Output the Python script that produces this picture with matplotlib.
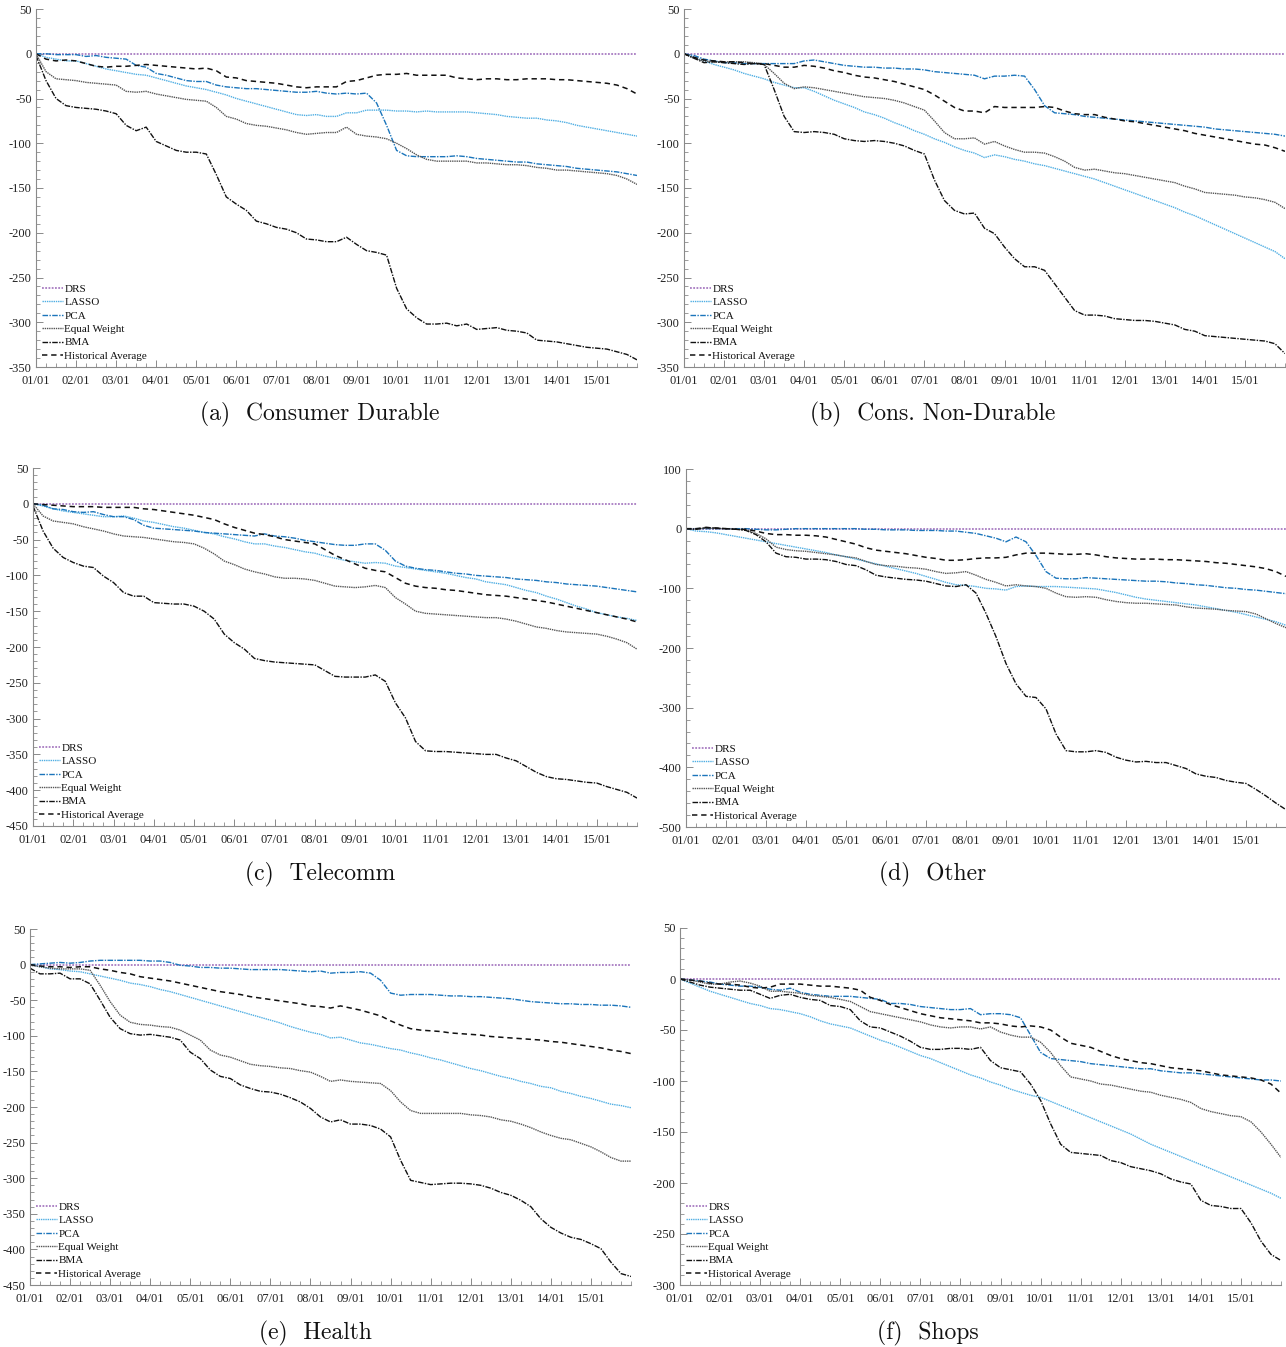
import numpy as np
import matplotlib
matplotlib.use("Agg")
import matplotlib.pyplot as plt
from matplotlib.ticker import MultipleLocator, FixedLocator, FuncFormatter

# ---------------- data ----------------
t = np.arange(1.0, 16.001, 0.25)          # time in years (01/01 = 1)
tick_pos = list(range(1, 16))
tick_labels = ["%02d/01" % i for i in range(1, 16)]
series_names = ["DRS", "LASSO", "PCA", "Equal Weight", "BMA", "Historical Average"]
drs_line = [0.0] * len(t)

# (a) Consumer Durable
a_lasso = [0, -4, -6, -8, -8, -11, -14, -17, -19, -21, -23, -24, -27, -30, -33, -36,
           -38, -40, -43, -46, -50, -53, -56, -59, -62, -65, -68, -69, -68, -70, -70, -66,
           -66, -63, -63, -63, -64, -64, -65, -64, -65, -65, -65, -65, -66, -67, -68, -70,
           -71, -72, -72, -74, -75, -77, -80, -82, -84, -86, -88, -90, -92]
a_pca = [0, 0, -1, -1, -1, -3, -2, -4, -5, -6, -13, -15, -22, -24, -27, -30,
         -31, -31, -35, -37, -38, -39, -39, -40, -41, -42, -43, -43, -42, -44, -45, -44,
         -45, -44, -55, -80, -108, -114, -115, -115, -115, -115, -114, -115, -117, -118, -119, -120,
         -121, -121, -123, -124, -125, -126, -128, -129, -130, -131, -132, -134, -136]
a_ew = [0, -20, -28, -29, -30, -32, -33, -34, -35, -42, -43, -42, -45, -47, -49, -51,
        -52, -53, -60, -70, -73, -78, -80, -81, -83, -85, -88, -90, -89, -88, -88, -82,
        -90, -92, -93, -95, -100, -106, -113, -118, -120, -120, -120, -120, -122, -122, -123, -124,
        -124, -125, -127, -128, -130, -130, -131, -132, -133, -134, -136, -140, -146]
a_bma = [-2, -30, -50, -58, -60, -61, -62, -64, -67, -80, -86, -82, -98, -103, -108, -110,
         -110, -112, -135, -160, -168, -175, -187, -190, -194, -196, -200, -207, -208, -210, -210, -205,
         -213, -220, -222, -225, -262, -285, -295, -302, -302, -301, -304, -302, -308, -307, -306, -309,
         -310, -312, -320, -321, -322, -324, -326, -328, -329, -330, -333, -336, -342]
a_ha = [0, -6, -8, -7, -8, -11, -14, -15, -14, -14, -13, -12, -13, -14, -15, -16,
        -17, -16, -19, -26, -27, -30, -31, -32, -33, -35, -37, -38, -37, -37, -37, -31,
        -30, -27, -24, -23, -23, -22, -24, -24, -24, -24, -27, -28, -29, -28, -28, -29,
        -29, -28, -28, -28, -29, -29, -30, -31, -32, -33, -35, -39, -45]

# (b) Cons. Non-Durable
b_lasso = [0, -4, -8, -12, -15, -18, -22, -25, -28, -32, -35, -38, -38, -42, -47, -52,
           -56, -60, -65, -68, -72, -77, -81, -86, -90, -95, -99, -104, -108, -111, -116, -113,
           -115, -118, -120, -123, -125, -128, -131, -134, -137, -140, -144, -148, -152, -156, -160, -164,
           -168, -172, -177, -181, -186, -191, -196, -201, -206, -211, -216, -221, -229]
b_pca = [0, -2, -6, -8, -10, -10, -11, -11, -11, -11, -11, -11, -8, -7, -9, -11,
         -13, -14, -15, -15, -16, -16, -17, -17, -18, -20, -21, -22, -23, -24, -28, -25,
         -25, -24, -25, -40, -58, -66, -67, -68, -70, -71, -72, -73, -74, -75, -76, -77,
         -78, -79, -80, -81, -82, -84, -85, -86, -87, -88, -89, -90, -92]
b_ew = [0, -5, -8, -9, -9, -9, -9, -10, -12, -22, -33, -39, -37, -38, -40, -42,
        -44, -46, -48, -49, -50, -52, -55, -59, -63, -75, -88, -95, -95, -94, -101, -98,
        -103, -107, -110, -110, -111, -115, -120, -127, -130, -129, -131, -133, -134, -136, -138, -140,
        -142, -144, -148, -151, -155, -156, -157, -158, -160, -161, -163, -166, -173]
b_bma = [0, -5, -10, -9, -10, -11, -12, -11, -12, -40, -70, -87, -88, -87, -88, -90,
         -95, -97, -98, -97, -98, -100, -103, -108, -112, -141, -164, -175, -179, -178, -195, -201,
         -216, -229, -238, -238, -242, -257, -272, -287, -292, -292, -293, -296, -297, -298, -298, -299,
         -301, -303, -308, -310, -315, -316, -317, -318, -319, -320, -321, -324, -335]
b_ha = [0, -4, -7, -8, -9, -9, -10, -11, -11, -13, -15, -15, -13, -14, -16, -19,
        -21, -24, -26, -27, -29, -31, -34, -37, -40, -46, -53, -60, -64, -64, -66, -59,
        -60, -60, -60, -60, -59, -60, -64, -67, -68, -68, -71, -73, -75, -76, -78, -80,
        -82, -84, -86, -89, -91, -93, -95, -97, -99, -101, -102, -105, -109]

# (c) Telecomm
c_lasso = [0, -3, -7, -10, -12, -14, -16, -18, -18, -17, -20, -24, -26, -29, -32, -34,
           -37, -40, -42, -46, -49, -53, -56, -56, -59, -61, -64, -67, -69, -73, -76, -79,
           -81, -83, -82, -83, -87, -89, -91, -93, -95, -97, -100, -103, -105, -109, -111, -113,
           -117, -121, -124, -129, -133, -138, -143, -147, -152, -155, -158, -160, -163]
c_pca = [0, -2, -7, -8, -11, -12, -11, -15, -18, -18, -22, -30, -34, -35, -36, -37,
         -38, -40, -41, -42, -43, -44, -45, -42, -45, -46, -48, -51, -53, -55, -57, -58,
         -58, -56, -56, -65, -80, -87, -90, -92, -93, -95, -97, -98, -100, -101, -102, -103,
         -105, -106, -107, -109, -110, -112, -113, -114, -115, -117, -119, -121, -123]
c_ew = [0, -17, -24, -26, -28, -32, -35, -38, -42, -45, -46, -47, -49, -51, -53, -54,
        -56, -62, -70, -80, -85, -91, -95, -98, -102, -104, -104, -105, -107, -111, -115, -116,
        -117, -116, -114, -117, -131, -140, -150, -153, -154, -155, -156, -157, -158, -159, -159, -161,
        -164, -168, -172, -174, -177, -179, -180, -181, -182, -185, -189, -194, -203]
c_bma = [-3, -38, -62, -75, -82, -87, -89, -101, -110, -124, -129, -129, -138, -139, -140, -140,
         -143, -150, -161, -182, -194, -203, -216, -219, -221, -222, -223, -224, -225, -233, -241, -242,
         -242, -242, -239, -248, -278, -299, -332, -345, -346, -346, -347, -348, -349, -350, -350, -355,
         -359, -367, -375, -381, -384, -385, -387, -389, -390, -395, -399, -403, -411]
c_ha = [0, -1, -2, -3, -4, -4, -4, -5, -5, -5, -5, -7, -8, -10, -12, -14,
        -16, -19, -22, -28, -33, -37, -41, -43, -46, -50, -52, -54, -56, -64, -72, -78,
        -84, -90, -93, -95, -103, -111, -115, -117, -118, -120, -121, -123, -125, -127, -128, -129,
        -131, -133, -135, -137, -140, -143, -146, -149, -152, -155, -158, -161, -165]

# (d) Other
d_lasso = [0, -4, -5, -7, -10, -13, -16, -19, -22, -25, -28, -31, -34, -37, -40, -44,
           -47, -51, -55, -59, -63, -67, -71, -75, -80, -85, -90, -94, -95, -97, -100, -101,
           -103, -97, -96, -97, -97, -97, -98, -99, -100, -101, -104, -107, -111, -115, -118, -120,
           -122, -124, -126, -128, -131, -134, -137, -140, -144, -148, -152, -156, -162]
d_pca = [0, 0, 0, 0, 0, 0, 0, -1, -2, -2, -1, 0, 0, 0, 0, 0,
         0, 0, -1, -1, -2, -2, -2, -3, -3, -3, -4, -4, -6, -8, -12, -16,
         -22, -14, -22, -45, -72, -83, -84, -84, -82, -83, -84, -85, -86, -87, -88, -88,
         -89, -91, -92, -94, -95, -97, -99, -100, -102, -103, -105, -107, -109]
d_ew = [0, -1, 1, 0, 0, -1, -2, -8, -17, -31, -35, -37, -38, -40, -42, -44,
        -47, -49, -55, -60, -62, -63, -65, -66, -68, -72, -75, -74, -72, -78, -85, -90,
        -96, -94, -96, -97, -100, -108, -114, -115, -114, -115, -119, -122, -124, -125, -125, -126,
        -127, -128, -131, -133, -134, -135, -137, -138, -139, -143, -151, -159, -166]
d_bma = [0, -1, 2, 1, 0, -1, -3, -10, -22, -41, -47, -48, -51, -51, -52, -55,
         -60, -62, -69, -78, -81, -83, -85, -86, -88, -92, -96, -97, -94, -108, -142, -181,
         -226, -260, -281, -283, -302, -344, -372, -374, -374, -372, -375, -383, -388, -391, -390, -392,
         -392, -397, -402, -411, -415, -417, -422, -425, -427, -437, -448, -460, -471]
d_ha = [0, 0, 2, 1, 0, -1, -1, -4, -8, -10, -10, -11, -11, -12, -14, -18,
        -22, -26, -32, -36, -38, -40, -42, -45, -48, -50, -53, -53, -52, -50, -49, -49,
        -48, -44, -41, -41, -41, -42, -43, -43, -42, -44, -47, -49, -50, -51, -51, -51,
        -52, -52, -53, -54, -55, -57, -58, -60, -62, -64, -67, -72, -80]

# (e) Health
e_lasso = [0, -3, -6, -7, -9, -10, -13, -16, -19, -22, -26, -28, -31, -35, -38, -42,
           -46, -50, -54, -58, -62, -66, -70, -74, -78, -82, -87, -91, -95, -98, -103, -102,
           -106, -110, -112, -115, -118, -120, -124, -127, -131, -134, -138, -142, -146, -149, -153, -157,
           -160, -164, -167, -171, -173, -178, -181, -185, -188, -192, -196, -198, -201]
e_pca = [0, 1, 2, 3, 2, 3, 5, 6, 6, 6, 6, 6, 5, 5, 3, -1,
         -2, -4, -4, -5, -5, -6, -7, -7, -7, -7, -8, -9, -10, -9, -12, -11,
         -11, -10, -12, -22, -40, -43, -42, -42, -42, -43, -44, -44, -45, -45, -46, -47,
         -48, -50, -52, -53, -54, -55, -55, -56, -56, -57, -57, -58, -60]
e_ew = [-1, -3, -5, -6, -6, -6, -8, -29, -52, -71, -81, -84, -85, -87, -88, -92,
        -99, -106, -120, -127, -130, -135, -140, -142, -143, -145, -146, -149, -151, -157, -164, -162,
        -164, -165, -166, -167, -177, -193, -205, -209, -209, -209, -209, -209, -211, -212, -214, -218,
        -220, -224, -229, -235, -240, -244, -246, -251, -256, -263, -271, -276, -276]
e_bma = [-5, -13, -13, -12, -20, -20, -27, -50, -74, -90, -97, -99, -98, -100, -102, -106,
         -123, -132, -148, -157, -160, -169, -174, -178, -179, -182, -187, -193, -202, -214, -221, -218,
         -224, -224, -226, -231, -242, -275, -303, -306, -309, -308, -307, -307, -308, -310, -314, -320,
         -324, -331, -340, -357, -369, -377, -383, -386, -392, -399, -418, -434, -438]
e_ha = [0, -2, -3, -3, -4, -3, -3, -6, -8, -11, -13, -17, -19, -21, -23, -26,
        -29, -32, -35, -38, -40, -42, -45, -47, -49, -51, -53, -55, -58, -59, -61, -58,
        -61, -64, -68, -72, -79, -85, -90, -92, -93, -94, -96, -97, -98, -99, -101, -102,
        -103, -104, -105, -106, -108, -109, -111, -113, -115, -117, -120, -122, -125]

# (f) Shops
f_lasso = [0, -4, -8, -12, -15, -18, -21, -24, -26, -29, -30, -32, -34, -37, -41, -44,
           -46, -48, -52, -56, -60, -63, -67, -71, -75, -78, -82, -86, -90, -94, -97, -101,
           -104, -108, -111, -114, -116, -120, -124, -128, -132, -136, -140, -144, -148, -152, -157, -162,
           -166, -170, -174, -178, -182, -186, -190, -194, -198, -202, -206, -210, -215]
f_pca = [0, -1, -2, -3, -5, -6, -7, -7, -8, -10, -11, -9, -13, -15, -16, -17,
         -17, -17, -18, -19, -20, -24, -24, -25, -27, -28, -29, -30, -30, -29, -35, -34,
         -34, -35, -38, -55, -72, -78, -79, -80, -81, -83, -84, -85, -86, -87, -88, -88,
         -90, -91, -92, -92, -93, -94, -95, -96, -97, -98, -99, -99, -100]
f_ew = [0, -1, -3, -5, -5, -3, -2, -4, -7, -12, -12, -13, -14, -16, -17, -18,
        -20, -22, -27, -32, -34, -36, -38, -40, -42, -45, -47, -48, -47, -47, -49, -47,
        -52, -55, -57, -57, -62, -72, -85, -96, -98, -100, -103, -104, -106, -108, -110, -111,
        -114, -116, -118, -121, -127, -130, -132, -134, -135, -140, -150, -162, -175]
f_bma = [0, -3, -6, -8, -9, -10, -11, -11, -15, -19, -16, -15, -18, -20, -21, -26,
         -27, -30, -41, -47, -48, -52, -56, -61, -67, -69, -69, -68, -68, -69, -67, -80,
         -87, -89, -91, -103, -119, -142, -162, -170, -171, -172, -173, -178, -180, -184, -186, -188,
         -191, -196, -199, -201, -217, -222, -223, -225, -225, -239, -257, -270, -276]
f_ha = [0, -1, -2, -4, -5, -5, -6, -8, -9, -8, -5, -5, -5, -6, -7, -7,
        -8, -9, -11, -18, -21, -25, -28, -31, -34, -36, -38, -39, -40, -41, -43, -43,
        -44, -46, -47, -46, -47, -50, -57, -63, -65, -67, -71, -75, -78, -80, -82, -83,
        -85, -87, -88, -89, -90, -92, -94, -95, -96, -97, -99, -103, -112]

captions = ["(a)  Consumer Durable", "(b)  Cons. Non-Durable", "(c)  Telecomm",
            "(d)  Other", "(e)  Health", "(f)  Shops"]

# ---------------- styling / layout ----------------
W, H = 1286, 1347
fig = plt.figure(figsize=(W / 100, H / 100), dpi=100)
fig.patch.set_facecolor("white")

SERIF = ["Liberation Serif", "DejaVu Serif"]
styles = [
    dict(color="#A87CC2", ls=(0, (1, 0.8)), lw=1.3),      # DRS
    dict(color="#4FAEE3", ls=(0, (1, 0.6)), lw=1.0),      # LASSO
    dict(color="#1B75BB", ls=(0, (4, 1, 1, 1)), lw=1.0),  # PCA
    dict(color="#555555", ls=(0, (1, 0.6)), lw=1.0),      # Equal Weight
    dict(color="#111111", ls=(0, (4, 1, 1, 1)), lw=1.0),  # BMA
    dict(color="#111111", ls=(0, (3.5, 2.5)), lw=1.1),    # Historical Average
]

panels = [
    # left, right, top, bottom (px), ylim, major, minor, caption pos, data
    (36, 637, 9, 367, (-350, 50), 50, 10, (320, 414), (a_lasso, a_pca, a_ew, a_bma, a_ha)),
    (684, 1285, 9, 367, (-350, 50), 50, 10, (933, 414), (b_lasso, b_pca, b_ew, b_bma, b_ha)),
    (33, 637, 468, 826, (-450, 50), 50, 10, (320, 874), (c_lasso, c_pca, c_ew, c_bma, c_ha)),
    (686, 1286, 469, 827, (-500, 100), 100, 20, (933, 874), (d_lasso, d_pca, d_ew, d_bma, d_ha)),
    (30, 631, 929, 1285, (-450, 50), 50, 10, (315, 1333), (e_lasso, e_pca, e_ew, e_bma, e_ha)),
    (680, 1281, 928, 1285, (-300, 50), 50, 10, (928, 1333), (f_lasso, f_pca, f_ew, f_bma, f_ha)),
]

for k, (l, r, tp, b, ylim, major, minor, cpos, data) in enumerate(panels):
    ax = fig.add_axes([l / W, 1 - b / H, (r - l) / W, (b - tp) / H])
    allseries = [drs_line] + list(data)
    for name, ys, st in zip(series_names, allseries, styles):
        ax.plot(t, ys, label=name, color=st["color"], linestyle=st["ls"],
                linewidth=st["lw"], solid_capstyle="butt", dash_capstyle="butt")
    ax.set_xlim(1, 16)
    ax.set_ylim(*ylim)
    ax.xaxis.set_major_locator(FixedLocator(tick_pos))
    ax.set_xticklabels(tick_labels)
    ax.xaxis.set_minor_locator(MultipleLocator(0.25))
    ax.yaxis.set_major_locator(MultipleLocator(major))
    ax.yaxis.set_minor_locator(MultipleLocator(minor))
    ax.yaxis.set_major_formatter(FuncFormatter(lambda v, p: "%d" % int(round(v))))
    for s in ("top", "right"):
        ax.spines[s].set_visible(False)
    for s in ("left", "bottom"):
        ax.spines[s].set_color("#8a8a8a")
        ax.spines[s].set_linewidth(0.8)
    ax.tick_params(which="major", direction="in", length=5, width=0.7, color="#8a8a8a",
                   labelsize=9, labelcolor="#222222")
    ax.tick_params(axis="y", which="major", pad=3)
    ax.tick_params(axis="x", which="major", pad=6)
    ax.tick_params(which="minor", direction="in", length=3, width=0.6, color="#8a8a8a")
    for lab in ax.get_xticklabels() + ax.get_yticklabels():
        lab.set_family(SERIF)
    ax.set_facecolor("none")
    leg = ax.legend(loc="lower left", frameon=False, prop={"family": SERIF, "size": 8},
                    handlelength=1.9, handletextpad=0.1, labelspacing=0.33,
                    borderaxespad=0.3, borderpad=0.25)
    for txt in leg.get_texts():
        txt.set_color("#111111")
    fig.text(cpos[0] / W, 1 - cpos[1] / H, captions[k], family="cmr10", fontsize=17,
             ha="center", va="center", color="#111111")

fig.savefig("out.png", dpi=100)
